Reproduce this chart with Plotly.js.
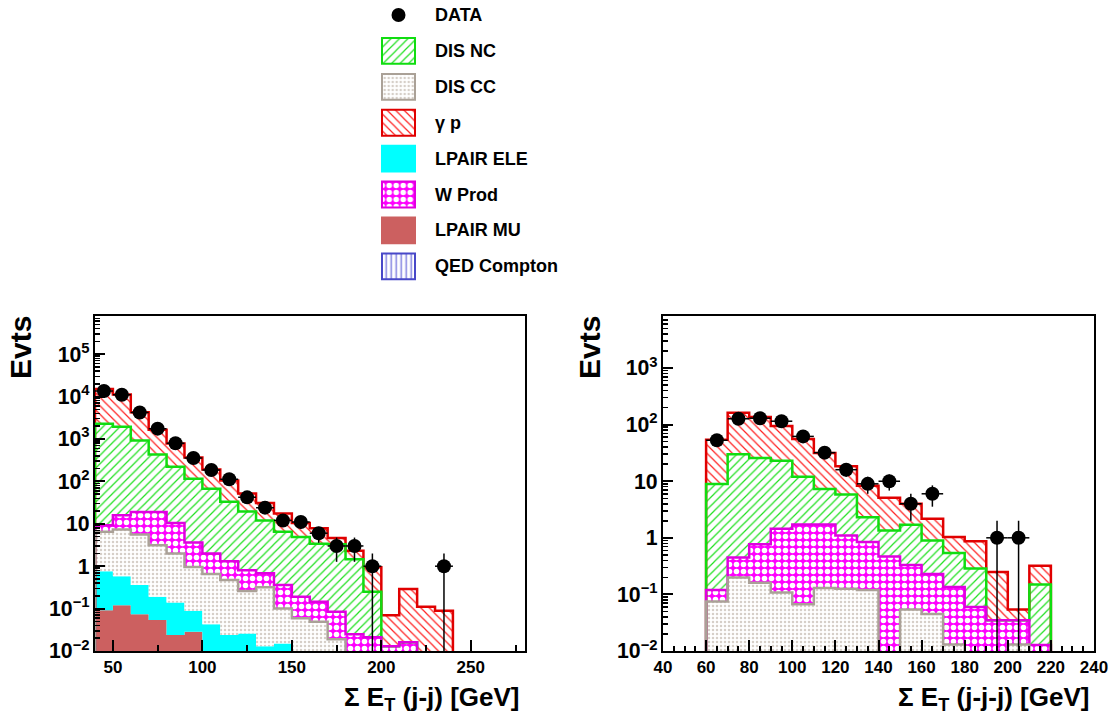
<!DOCTYPE html>
<html><head><meta charset="utf-8">
<script src="https://cdn.plot.ly/plotly-3.0.1.min.js"></script>
<style>html,body{margin:0;padding:0;background:#fff}</style>
</head><body>
<div id="chart" style="width:1112px;height:717px"></div>
<script>
// ---------- DATA (stack top levels as drawn, per bin; 0 = empty) ----------
const binWidth = 10;
const leftBins  = [40,50,60,70,80,90,100,110,120,130,140,150,160,170,180,190,200,210,220,230,240,250,260,270];
const left_gp   = [15000,11200,4250,1650,780,365,190,105,52,31,17.4,10.5,7.9,4.6,2.3,0.95,0.07,0.29,0.11,0.089,0,0,0,0];
const left_nc   = [2300,1950,920,430,220,116,67,33,19.6,12,6.5,4.9,3.4,3.3,1.45,0.25,0,0,0,0,0,0,0,0];
const left_w    = [9.2,15.8,19,19,10.4,3.6,2.0,1.3,0.8,0.68,0.36,0.19,0.145,0.084,0.025,0.021,0.013,0.016,0,0,0,0,0,0];
const left_cc   = [6.5,7.3,5.6,3.1,2.0,0.96,0.65,0.47,0.26,0.32,0.10,0.059,0.049,0.019,0,0,0,0,0,0,0,0,0,0];
const left_ele  = [0.76,0.58,0.36,0.19,0.14,0.089,0.043,0.024,0.026,0.013,0.015,0,0,0,0,0,0,0,0,0,0,0,0,0];
const left_mu   = [0.092,0.12,0.074,0.054,0.024,0.0285,0,0,0,0,0,0,0,0,0,0,0,0,0,0,0,0,0,0];
const leftDataX = [45,55,65,75,85,95,105,115,125,135,145,155,165,175,185,195,235];
const leftDataY = [13500,11000,4200,1750,790,355,185,112,42,24,12,11,6,3,3,1,1];

const rightBins = [40,50,60,70,80,90,100,110,120,130,140,150,160,170,180,190,200,210,220,230];
const right_gp  = [0,0,54,162,137,95,56,31.6,18.4,8.3,5.1,4.0,2.17,1.03,0.87,0.25,0.054,0.32,0,0];
const right_nc  = [0,0,8.9,30,25.7,23,12,7.3,5.8,2.3,1.35,1.7,0.9,0.54,0.286,0,0,0.15,0,0];
const right_w   = [0,0,0.12,0.45,0.77,1.45,1.72,1.72,1.1,0.84,0.47,0.33,0.23,0.135,0.06,0.035,0.035,0.0128,0,0];
const right_cc  = [0,0,0.075,0.2,0.16,0.108,0.067,0.13,0.126,0.12,0,0.054,0.045,0.013,0,0,0.013,0,0,0];
const right_ele = [0,0,0,0,0,0,0,0,0,0,0,0,0,0,0,0,0,0,0,0];
const right_mu  = [0,0,0,0,0,0,0,0,0,0,0,0,0,0,0,0,0,0,0,0];
const rightDataX = [65,75,85,95,105,115,125,135,145,155,165,195,205];
const rightDataY = [53,127,130,115,62,32,16,9,10,4,6,1,1];

const legendKeys   = ['data','nc','cc','gp','ele','w','mu','qed'];
const legendLabels = ['DATA','DIS NC','DIS CC','\u03b3 p','LPAIR ELE','W Prod','LPAIR MU','QED Compton'];

const leftTickTitle  = '\u03a3 E<sub>T</sub> (j-j) [GeV]';
const rightTickTitle = '\u03a3 E<sub>T</sub> (j-j-j) [GeV]';
const yTitle = 'Evts';

// ---------- STYLE ----------
const FONT = 'Liberation Sans, Arial, Helvetica, sans-serif';
const FLOOR = 1e-4;
const STY = {
  mu:  {line:'#cc6060', bg:'#cc6060', pattern:null},
  ele: {line:'#00ffff', bg:'#00ffff', pattern:null},
  cc:  {line:'#aaa197', bg:'#ffffff', pattern:{shape:'.', fgcolor:'#d6cfc8', bgcolor:'#ffffff', size:4, solidity:0.3}},
  w:   {line:'#e000e0', bg:'#ff00ff', pattern:{shape:'.', fgcolor:'#ffffff', bgcolor:'#ff00ff', size:7, solidity:0.5}},
  nc:  {line:'#10dd10', bg:'#ffffff', pattern:{shape:'/', fgcolor:'#20e020', bgcolor:'#ffffff', size:6, solidity:0.2}},
  gp:  {line:'#e00000', bg:'#ffffff', pattern:{shape:'\\', fgcolor:'#ff2020', bgcolor:'#ffffff', size:6, solidity:0.2}},
  qed: {line:'#4848c8', bg:'#ffffff', pattern:{shape:'|', fgcolor:'#8080e0', bgcolor:'#ffffff', size:5, solidity:0.3}}
};

function stackLevels(layers){
  const out=[]; let prev=null;
  layers.forEach(a=>{const cur=a.map((v,i)=>Math.max(v, prev?prev[i]:0)); out.push(cur); prev=cur;});
  return out;
}
function stepXY(bins, vals){
  const x=[bins[0]], y=[FLOOR];
  bins.forEach((b,i)=>{x.push(b); y.push(vals[i]>0?vals[i]:FLOOR);});
  const last=bins[bins.length-1]+binWidth, lv=vals[vals.length-1];
  x.push(last); y.push(lv>0?lv:FLOOR);
  x.push(last); y.push(FLOOR);
  return {x,y};
}
function panel(bins, comps, dataX, dataY, xa, ya){
  const order=['mu','ele','cc','w','nc','gp'];
  const lv=stackLevels(order.map(k=>comps[k]));
  const tr=[];
  const last=bins[bins.length-1]+binWidth;
  tr.push({x:[bins[0],last], y:[FLOOR,FLOOR], mode:'lines', line:{width:0}, xaxis:xa, yaxis:ya, hoverinfo:'skip', showlegend:false});
  order.forEach((k,i)=>{
    const s=stepXY(bins, lv[i]); const st=STY[k];
    const t={x:s.x, y:s.y, mode:'lines', line:{width:0, shape:'hv'}, fill:'tonexty', fillcolor:st.bg, xaxis:xa, yaxis:ya, hoverinfo:'skip', showlegend:false};
    if(st.pattern) t.fillpattern=st.pattern;
    tr.push(t);
  });
  ['gp','nc','w','cc'].forEach(k=>{
    const i=order.indexOf(k); const s=stepXY(bins, lv[i]);
    tr.push({x:s.x, y:s.y, mode:'lines', line:{width:2.5, shape:'hv', color:STY[k].line}, xaxis:xa, yaxis:ya, hoverinfo:'skip', showlegend:false});
  });
  const err=dataY.map(v=>Math.sqrt(v));
  tr.push({x:dataX, y:dataY, mode:'markers', marker:{size:14, color:'black'}, xaxis:xa, yaxis:ya, showlegend:false,
    error_y:{type:'data', array:err, arrayminus:err, width:0, thickness:1.5, color:'black'},
    error_x:{type:'constant', value:binWidth/2, width:0, thickness:1.5, color:'black'}});
  return tr;
}

let traces=[];
traces=traces.concat(panel(leftBins,{gp:left_gp,nc:left_nc,w:left_w,cc:left_cc,ele:left_ele,mu:left_mu},leftDataX,leftDataY,'x','y'));
traces=traces.concat(panel(rightBins,{gp:right_gp,nc:right_nc,w:right_w,cc:right_cc,ele:right_ele,mu:right_mu},rightDataX,rightDataY,'x2','y2'));

// legend glyphs on their own small axes
const annotations=[];
legendKeys.forEach((k,i)=>{
  if(k==='data'){
    traces.push({x:[0.5], y:[i], mode:'markers', marker:{size:14,color:'black'}, xaxis:'x3', yaxis:'y3', showlegend:false, hoverinfo:'skip', cliponaxis:false});
  } else {
    const st=STY[k];
    const m={color:st.bg, line:{color:st.line, width:2}};
    if(st.pattern) m.pattern=st.pattern;
    traces.push({type:'bar', x:[0.5], y:[0.72], base:[i-0.36], width:[1], marker:m, xaxis:'x3', yaxis:'y3', showlegend:false, hoverinfo:'skip', cliponaxis:false});
  }
  annotations.push({text:legendLabels[i], x:433/1112, xref:'paper', y:i, yref:'y3', xanchor:'left', yanchor:'middle', showarrow:false,
    font:{family:FONT, size:18, color:'black', weight:'bold'}});
});

annotations.push({text:yTitle, x:21/1112, y:1-348/717, xref:'paper', yref:'paper', textangle:-90, showarrow:false, xanchor:'center', yanchor:'middle', font:{family:FONT,size:30,color:'black',weight:'bold'}});
annotations.push({text:yTitle, x:590/1112, y:1-348/717, xref:'paper', yref:'paper', textangle:-90, showarrow:false, xanchor:'center', yanchor:'middle', font:{family:FONT,size:30,color:'black',weight:'bold'}});
annotations.push({text:leftTickTitle, x:522/1112, y:1-698/717, xref:'paper', yref:'paper', showarrow:false, xanchor:'right', yanchor:'middle', font:{family:FONT,size:26,color:'black',weight:'bold'}});
annotations.push({text:rightTickTitle, x:1091/1112, y:1-698/717, xref:'paper', yref:'paper', showarrow:false, xanchor:'right', yanchor:'middle', font:{family:FONT,size:26,color:'black',weight:'bold'}});

const tickFont={family:FONT, size:17, color:'black', weight:'bold'};
const ax={showline:true, linewidth:2, linecolor:'black', mirror:true, ticks:'inside', tickwidth:2, tickcolor:'black', showgrid:false, zeroline:false, tickfont:tickFont};
const yDom=[1-651/717, 1-316/717];

const layout={
  width:1112, height:717, margin:{l:0,r:0,t:0,b:0}, paper_bgcolor:'white', plot_bgcolor:'white', showlegend:false,
  xaxis:Object.assign({}, ax, {domain:[95/1112,524.5/1112], range:[40,280], tickmode:'linear', tick0:0, dtick:50, ticklen:11,
     minor:{dtick:25, ticks:'inside', ticklen:6, tickwidth:2, tickcolor:'black', showgrid:false}, anchor:'y'}),
  yaxis:Object.assign({}, ax, {type:'log', domain:yDom, range:[-2,5.9], tickmode:'linear', tick0:0, dtick:1, exponentformat:'power', ticklen:10,
     minor:{dtick:'D1', ticks:'inside', ticklen:5, tickwidth:1.5, tickcolor:'black', showgrid:false}, anchor:'x'}),
  xaxis2:Object.assign({}, ax, {domain:[663/1112,1094/1112], range:[40,240], tickmode:'linear', tick0:0, dtick:20, ticklen:11,
     minor:{dtick:5, ticks:'inside', ticklen:5, tickwidth:2, tickcolor:'black', showgrid:false}, anchor:'y2'}),
  yaxis2:Object.assign({}, ax, {type:'log', domain:yDom, range:[-2,3.92], tickmode:'linear', tick0:0, dtick:1, exponentformat:'power', ticklen:10,
     minor:{dtick:'D1', ticks:'inside', ticklen:5, tickwidth:1.5, tickcolor:'black', showgrid:false}, anchor:'x2'}),
  xaxis3:{domain:[378.7/1112,418.3/1112], range:[-0.1,1.1], visible:false, anchor:'y3', fixedrange:true},
  yaxis3:{domain:[1-284/717,1], range:[7.493,-0.418], visible:false, anchor:'x3', fixedrange:true},
  barmode:'overlay',
  annotations:annotations
};

Plotly.newPlot('chart', traces, layout, {displayModeBar:false, staticPlot:true});
</script></body></html>
